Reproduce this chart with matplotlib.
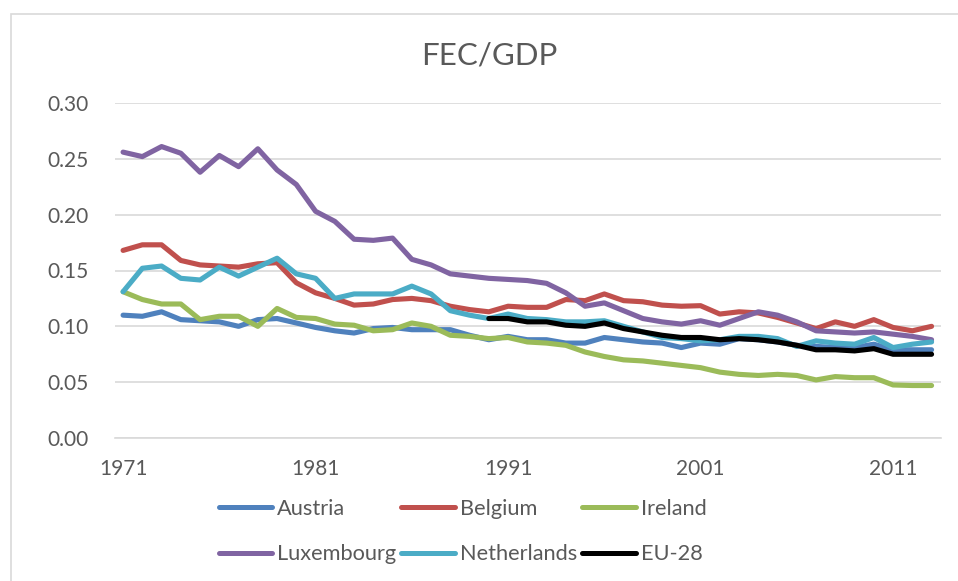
import matplotlib
matplotlib.use("Agg")
import matplotlib.pyplot as plt
from matplotlib.patches import Rectangle
import numpy as np

years = list(range(1971, 2014))
tick_years = [1971, 1981, 1991, 2001, 2011]

austria = [0.110, 0.109, 0.113, 0.106, 0.105, 0.104, 0.100, 0.106, 0.107, 0.103,
           0.099, 0.096, 0.094, 0.098, 0.099, 0.097, 0.097, 0.097, 0.092, 0.088,
           0.091, 0.088, 0.088, 0.085, 0.085, 0.090, 0.088, 0.086, 0.085, 0.081,
           0.085, 0.084, 0.089, 0.088, 0.086, 0.083, 0.082, 0.081, 0.081, 0.084,
           0.079, 0.079, 0.079]
belgium = [0.168, 0.173, 0.173, 0.159, 0.155, 0.154, 0.153, 0.156, 0.157, 0.139,
           0.130, 0.125, 0.119, 0.120, 0.124, 0.125, 0.123, 0.118, 0.115, 0.113,
           0.118, 0.117, 0.117, 0.124, 0.123, 0.129, 0.123, 0.122, 0.119, 0.118,
           0.1185, 0.111, 0.113, 0.112, 0.108, 0.103, 0.098, 0.104, 0.100, 0.106,
           0.099, 0.096, 0.100]
ireland = [0.131, 0.124, 0.120, 0.120, 0.106, 0.109, 0.109, 0.100, 0.116, 0.108,
           0.107, 0.102, 0.101, 0.096, 0.097, 0.103, 0.100, 0.092, 0.091, 0.089,
           0.090, 0.086, 0.085, 0.083, 0.077, 0.073, 0.070, 0.069, 0.067, 0.065,
           0.063, 0.059, 0.057, 0.056, 0.057, 0.056, 0.052, 0.055, 0.054, 0.054,
           0.0475, 0.047, 0.047]
luxembourg = [0.256, 0.252, 0.261, 0.255, 0.238, 0.253, 0.243, 0.259, 0.240, 0.227,
              0.203, 0.194, 0.178, 0.177, 0.179, 0.160, 0.155, 0.147, 0.145, 0.143,
              0.142, 0.141, 0.1385, 0.130, 0.118, 0.121, 0.114, 0.107, 0.104, 0.102,
              0.105, 0.101, 0.107, 0.113, 0.110, 0.104, 0.096, 0.095, 0.094, 0.095,
              0.093, 0.091, 0.088]
netherlands = [0.131, 0.152, 0.154, 0.143, 0.1415, 0.153, 0.145, 0.153, 0.161, 0.147,
               0.143, 0.125, 0.129, 0.129, 0.129, 0.136, 0.129, 0.114, 0.110, 0.107,
               0.111, 0.107, 0.106, 0.104, 0.104, 0.105, 0.100, 0.095, 0.090, 0.089,
               0.087, 0.088, 0.091, 0.091, 0.089, 0.082, 0.087, 0.085, 0.084, 0.090,
               0.081, 0.084, 0.086]
eu28_years = list(range(1990, 2014))
eu28 = [0.107, 0.107, 0.104, 0.104, 0.101, 0.100, 0.103, 0.098, 0.095, 0.092,
        0.090, 0.090, 0.088, 0.089, 0.088, 0.086, 0.083, 0.079, 0.079, 0.078,
        0.080, 0.075, 0.075, 0.075]

series = [
    ("Austria", years, austria, "#4F81BD"),
    ("Belgium", years, belgium, "#C0504D"),
    ("Ireland", years, ireland, "#9BBB59"),
    ("Luxembourg", years, luxembourg, "#8064A2"),
    ("Netherlands", years, netherlands, "#4BACC6"),
    ("EU-28", eu28_years, eu28, "#000000"),
]

plt.rcParams['font.family'] = ['Lato', 'DejaVu Sans']
text_color = "#595959"

fig = plt.figure(figsize=(9.58, 5.81), dpi=100)
fig.patches.append(Rectangle((10.5 / 958, -0.1), 1.2, 1 - 13.5 / 581 + 0.1,
                             transform=fig.transFigure, fill=False,
                             edgecolor="#D9D9D9", linewidth=1.2))
ax = fig.add_axes([115 / 958, 1 - 438 / 581, (941 - 115) / 958, (438 - 103) / 581])

handles = {}
for name, xs, ys, col in series:
    (h,) = ax.plot(xs, ys, color=col, linewidth=3.7, label=name,
                   solid_capstyle="round", solid_joinstyle="round")
    handles[name] = h

ax.set_ylim(0, 0.30)
yt = np.arange(0, 0.301, 0.05)
ax.set_yticks(yt)
ax.set_yticklabels([f"{v:.2f}" for v in yt])
x0 = years[0]
ax.set_xlim(x0 - 0.42, x0 + 42.49)
ax.set_xticks(tick_years)
ax.set_xticklabels([str(y) for y in tick_years])
ax.grid(axis="y", color="#D9D9D9", linewidth=1.2)
ax.set_axisbelow(True)
for s in ["top", "right", "left"]:
    ax.spines[s].set_visible(False)
ax.spines["bottom"].set_color("#D9D9D9")
ax.spines["bottom"].set_linewidth(1.2)
ax.tick_params(axis="both", length=0, labelsize=15, colors=text_color)
ax.tick_params(axis="y", pad=19)
ax.tick_params(axis="x", pad=15)

fig.text(489 / 958, 1 - 56 / 581, "FEC/GDP", ha="center", va="center",
         fontsize=22.5, color=text_color)

order = ["Austria", "Luxembourg", "Belgium", "Netherlands", "Ireland", "EU-28"]
leg = ax.legend([handles[n] for n in order], order, loc="center",
                bbox_to_anchor=(462.5 / 958, 1 - 531.5 / 581),
                bbox_transform=fig.transFigure, ncol=3, frameon=False,
                fontsize=15.7, handlelength=2.45, handletextpad=0.22,
                columnspacing=0.25, labelspacing=1.17, borderpad=0)
for t in leg.get_texts():
    t.set_color(text_color)
for l in leg.get_lines():
    l.set_linewidth(3.6)

fig.savefig("out.png", dpi=100)
